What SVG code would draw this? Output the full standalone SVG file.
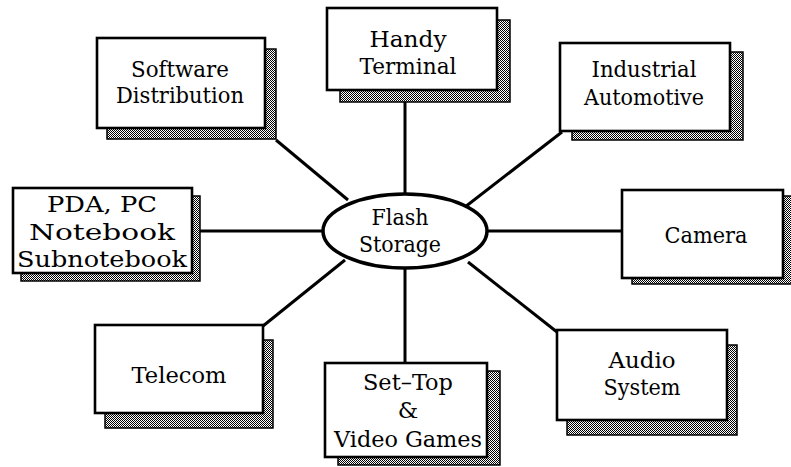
<svg xmlns="http://www.w3.org/2000/svg" width="791" height="467" viewBox="0 0 791 467">
  <defs>
    <!-- fine halftone fill for the drop shadows -->
    <pattern id="dots" width="2" height="2" patternUnits="userSpaceOnUse">
      <rect width="2" height="2" fill="#ffffff"/>
      <rect width="1" height="1" fill="#000000"/>
      <rect x="1" y="1" width="1" height="1" fill="#000000"/>
    </pattern>
    <style>
      .shadow { fill: url(#dots); stroke: #000; stroke-width: 1.5; }
      .box { fill: #fff; stroke: #000; stroke-width: 2.6; }
      .hub { fill: #fff; stroke: #000; stroke-width: 3.5; }
      .link { stroke: #000; stroke-width: 3; fill: none; }
      .lbl { font-family: "DejaVu Serif", "Liberation Serif", serif; font-size: 23px; fill: #000; text-anchor: middle; }
    </style>
  </defs>
  <rect width="791" height="467" fill="#fff"/>

  <g id="connectors">
    <line class="link" x1="405" y1="102" x2="405" y2="195"/>
    <line class="link" x1="276" y1="140" x2="348" y2="200"/>
    <line class="link" x1="562" y1="132" x2="465" y2="207"/>
    <line class="link" x1="200" y1="231" x2="323" y2="231"/>
    <line class="link" x1="487" y1="231" x2="622" y2="231"/>
    <line class="link" x1="263" y1="326" x2="345" y2="260"/>
    <line class="link" x1="405" y1="268" x2="405" y2="363"/>
    <line class="link" x1="468" y1="262" x2="557" y2="332"/>
  </g>

  <g id="software-distribution">
    <rect class="shadow" x="107" y="49" width="169" height="90"/>
    <rect class="box" x="97" y="38" width="168" height="90"/>
    <text class="lbl" x="180" y="77" textLength="98" lengthAdjust="spacingAndGlyphs">Software</text>
    <text class="lbl" x="180" y="103" textLength="128" lengthAdjust="spacingAndGlyphs">Distribution</text>
  </g>

  <g id="handy-terminal">
    <rect class="shadow" x="340" y="20" width="170" height="82"/>
    <rect class="box" x="327" y="8" width="170" height="82"/>
    <text class="lbl" x="408" y="47" textLength="77" lengthAdjust="spacingAndGlyphs">Handy</text>
    <text class="lbl" x="408" y="74" textLength="97" lengthAdjust="spacingAndGlyphs">Terminal</text>
  </g>

  <g id="industrial-automotive">
    <rect class="shadow" x="572" y="52" width="171" height="88"/>
    <rect class="box" x="560" y="43" width="170" height="88"/>
    <text class="lbl" x="644" y="77" textLength="105" lengthAdjust="spacingAndGlyphs">Industrial</text>
    <text class="lbl" x="644" y="105" textLength="120" lengthAdjust="spacingAndGlyphs">Automotive</text>
  </g>

  <g id="pda-pc">
    <rect class="shadow" x="21" y="196" width="179" height="85"/>
    <rect class="box" x="13" y="188" width="179" height="85"/>
    <text class="lbl" x="102" y="212" textLength="110" lengthAdjust="spacingAndGlyphs">PDA, PC</text>
    <text class="lbl" x="102" y="240" textLength="146" lengthAdjust="spacingAndGlyphs">Notebook</text>
    <text class="lbl" x="102" y="267" textLength="170" lengthAdjust="spacingAndGlyphs">Subnotebook</text>
  </g>

  <g id="flash-storage">
    <ellipse class="hub" cx="405" cy="231" rx="82" ry="37"/>
    <text class="lbl" x="400" y="225" textLength="57" lengthAdjust="spacingAndGlyphs">Flash</text>
    <text class="lbl" x="400" y="252" textLength="82" lengthAdjust="spacingAndGlyphs">Storage</text>
  </g>

  <g id="camera">
    <rect class="shadow" x="632" y="196" width="161" height="88"/>
    <rect class="box" x="622" y="190" width="161" height="88"/>
    <text class="lbl" x="706" y="243" textLength="83" lengthAdjust="spacingAndGlyphs">Camera</text>
  </g>

  <g id="telecom">
    <rect class="shadow" x="105" y="340" width="168" height="88"/>
    <rect class="box" x="95" y="325" width="168" height="88"/>
    <text class="lbl" x="179" y="383" textLength="95" lengthAdjust="spacingAndGlyphs">Telecom</text>
  </g>

  <g id="set-top">
    <rect class="shadow" x="338" y="371" width="162" height="94"/>
    <rect class="box" x="325" y="363" width="162" height="94"/>
    <text class="lbl" x="408" y="390" textLength="90" lengthAdjust="spacingAndGlyphs">Set–Top</text>
    <text class="lbl" x="408" y="418">&amp;</text>
    <text class="lbl" x="408" y="447" textLength="148" lengthAdjust="spacingAndGlyphs">Video Games</text>
  </g>

  <g id="audio-system">
    <rect class="shadow" x="567" y="345" width="170" height="90"/>
    <rect class="box" x="557" y="330" width="170" height="90"/>
    <text class="lbl" x="642" y="368" textLength="67" lengthAdjust="spacingAndGlyphs">Audio</text>
    <text class="lbl" x="642" y="395" textLength="77" lengthAdjust="spacingAndGlyphs">System</text>
  </g>
</svg>
